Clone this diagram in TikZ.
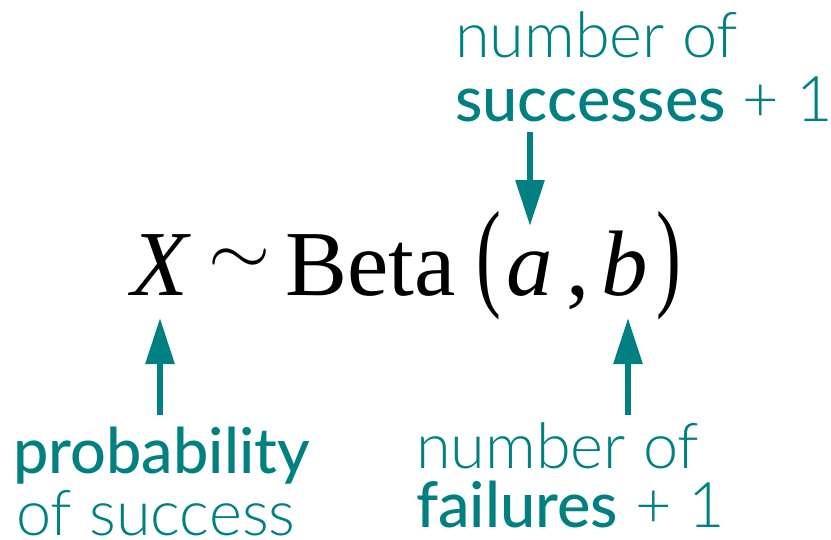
\documentclass[tikz,border=0pt]{standalone}
\usepackage{fontspec}
\usetikzlibrary{arrows.meta}
\setmainfont{Liberation Serif}
\newfontfamily\latolight{Lato Light}
\newfontfamily\latosemi{Lato Medium}
\definecolor{teal}{RGB}{0,128,128}
\tikzset{
  lbl/.style={anchor=base west, inner sep=0pt, text=teal},
  lite/.style={lbl, font=\latolight\fontsize{63}{65}\selectfont},
  bold/.style={lbl, font=\latosemi\fontsize{63}{65}\selectfont},
  fm/.style={anchor=base west, inner sep=0pt, font=\fontsize{93}{100}\selectfont},
  par/.style={inner sep=0pt, font=\fontsize{93}{100}\selectfont},
  arr/.style={draw=teal, line width=6pt, -{Triangle[width=28pt,length=46pt]}, fill=teal}
}
\begin{document}
\begin{tikzpicture}[x=1pt,y=-1pt]
\useasboundingbox (0,0) rectangle (831,539);
% formula
\node[fm] (X) at (131,295) {\itshape X};
\node[inner sep=0pt] (sim) at (240,262) {\scalebox{8}[7]{$\sim$}};
\node[fm] (beta) at (285,295) {Beta};
\node[par] (lp) at (489,266) {\scalebox{0.8}[1.29]{(}};
\node[fm] (a) at (506,295) {\itshape a};
\node[fm] (comma) at (566,295) {,};
\node[fm] (b) at (601,295) {\itshape b};
\node[par] (rp) at (669,266) {\scalebox{0.8}[1.29]{)}};
% labels
\node[lite] (t1) at (455,57) {number of};
\node[bold] (t2) at (455,121) {successes\latolight{} + 1};
\node[bold] (p1) at (13,473) {probability};
\node[lite] (p2) at (16,535) {of success};
\node[lite] (f1) at (416,468) {number of};
\node[bold] (f2) at (416,527) {failures\latolight{} + 1};
% arrows
\coordinate (ta) at (530,132);
\coordinate (tb) at (530,226);
\coordinate (la) at (160,415);
\coordinate (lb) at (160,318);
\coordinate (ra) at (628,415);
\coordinate (rb) at (628,318);
\draw[arr] (ta) -- (tb);
\draw[arr] (la) -- (lb);
\draw[arr] (ra) -- (rb);
\end{tikzpicture}
\end{document}
